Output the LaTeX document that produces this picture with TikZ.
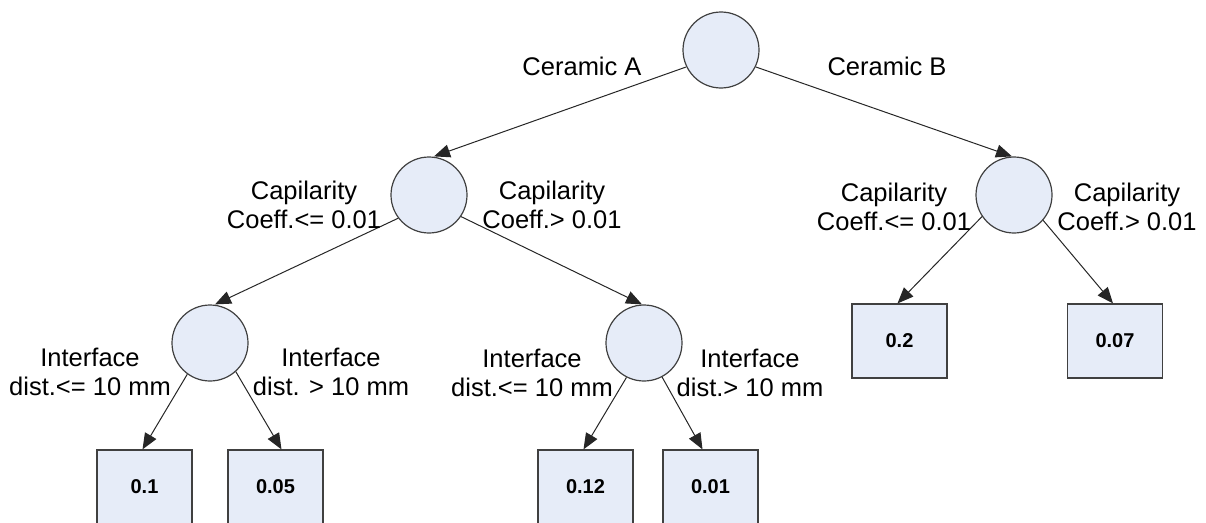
\documentclass[tikz,border=0pt]{standalone}
\usepackage{fontspec}
\setmainfont{Liberation Sans}
\usetikzlibrary{arrows.meta}
\definecolor{nodefill}{RGB}{230,236,248}
\definecolor{nodeline}{RGB}{64,64,64}
\begin{document}
\begin{tikzpicture}[x=1pt,y=-1pt,
  decision/.style={circle,draw=nodeline,fill=nodefill,line width=1.2pt,minimum size=76pt,inner sep=0pt},
  leaf/.style={rectangle,draw=nodeline,fill=nodefill,line width=1.2pt,minimum width=95pt,minimum height=74pt,inner sep=0pt,font=\fontsize{20}{24}\selectfont\bfseries},
  lbl/.style={align=center,font=\fontsize{25.5}{29.5}\selectfont,inner sep=0pt},
  conn/.style={draw=black!85,line width=1pt,-{Triangle[length=16pt,width=13pt]}}]
\useasboundingbox (0,0) rectangle (1206,522);
\clip (0,0) rectangle (1206,522);
% decision nodes
\node[decision] (root) at (721,50) {};
\node[decision] (A) at (429,195) {};
\node[decision] (B) at (1014,195) {};
\node[decision] (L) at (210,343) {};
\node[decision] (M) at (644,343) {};
% leaves
\node[leaf] (v01) at (144.5,487) {0.1};
\node[leaf] (v005) at (275.5,487) {0.05};
\node[leaf] (v012) at (585.5,487) {0.12};
\node[leaf] (v001) at (710.5,487) {0.01};
\node[leaf] (v02) at (899.5,341) {0.2};
\node[leaf] (v007) at (1115,341) {0.07};
% connectors
\draw[conn] (root.206) -- ([xshift=5pt]A.north);
\draw[conn] (root.334) -- ([xshift=-2pt]B.north);
\draw[conn] (A.217) -- ([xshift=5pt]L.north);
\draw[conn] (A.326) -- ([xshift=-2pt]M.north);
\draw[conn] (B.214) -- ([xshift=-2pt]v02.north);
\draw[conn] (B.319) -- ([xshift=-2pt]v007.north);
\draw[conn] (L.234) -- ([xshift=-2pt]v01.north);
\draw[conn] (L.312) -- ([xshift=6pt]v005.north);
\draw[conn] (M.243) -- ([xshift=-2pt]v012.north);
\draw[conn] (M.298) -- ([xshift=-8pt]v001.north);
% labels
\node[lbl] (lA) at (582,66) {Ceramic A};
\node[lbl] (lB) at (887,66) {Ceramic B};
\node[lbl] (lA1) at (304,205) {Capilarity\\Coeff.<= 0.01};
\node[lbl] (lA2) at (552,205) {Capilarity\\Coeff.> 0.01};
\node[lbl] (lB1) at (894,207) {Capilarity\\Coeff.<= 0.01};
\node[lbl] (lB2) at (1127,207) {Capilarity\\Coeff.> 0.01};
\node[lbl] (lL1) at (90,372) {Interface\\dist.<= 10 mm};
\node[lbl] (lL2) at (331,372) {Interface\\dist. > 10 mm};
\node[lbl] (lM1) at (532,373) {Interface\\dist.<= 10 mm};
\node[lbl] (lM2) at (750,373) {Interface\\dist.> 10 mm};
\end{tikzpicture}
\end{document}
